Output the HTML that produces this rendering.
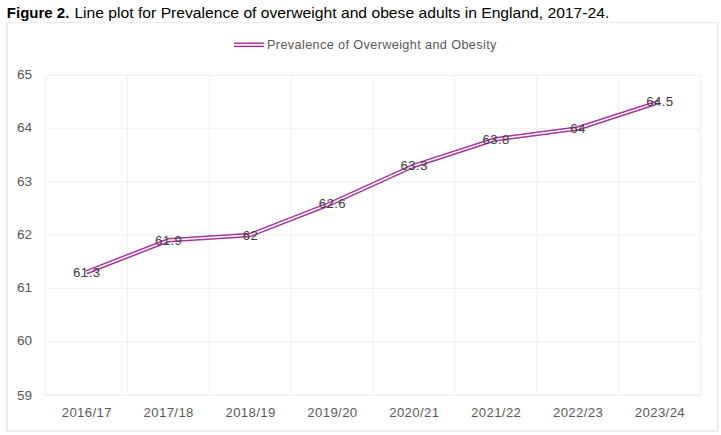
<!DOCTYPE html>
<html><head><meta charset="utf-8"><style>
html,body{margin:0;padding:0;background:#fff;width:721px;height:435px;overflow:hidden}
.t{position:absolute;left:0;top:0;}
svg{position:absolute;left:0;top:0}
svg text{font-family:"Liberation Sans",sans-serif}
.ax{font-size:13.2px;fill:#595959}
.dl{font-size:13.2px;fill:#404040}
.yl{font-size:13.6px;fill:#595959}
.lg{font-size:12.7px;fill:#595959}
.ti{font-size:15.4px;fill:#000}
</style></head><body>
<svg width="721" height="435" viewBox="0 0 721 435">
<defs><filter id="sb" x="-5%" y="-5%" width="110%" height="110%"><feGaussianBlur stdDeviation="0.3"/></filter></defs>
<rect x="6" y="22" width="712" height="409" fill="#fff" stroke="none"/>
<rect x="7" y="22.5" width="710.5" height="408.5" fill="none" stroke="#e2e2e2" stroke-width="1"/>
<rect x="6.5" y="22.5" width="711.5" height="409" fill="none" stroke="#ececec" stroke-width="1"/>
<text x="6.8" y="17.7" class="ti" font-weight="bold" textLength="62.6" lengthAdjust="spacingAndGlyphs">Figure 2.</text>
<text x="74.4" y="17.7" class="ti" textLength="534.9" lengthAdjust="spacingAndGlyphs">Line plot for Prevalence of overweight and obese adults in England, 2017-24.</text>
<line x1="45" x2="700.5" y1="75.50" y2="75.50" stroke="#f0f0f0" stroke-width="1"/>
<line x1="45" x2="700.5" y1="128.75" y2="128.75" stroke="#f0f0f0" stroke-width="1"/>
<line x1="45" x2="700.5" y1="182.00" y2="182.00" stroke="#f0f0f0" stroke-width="1"/>
<line x1="45" x2="700.5" y1="235.25" y2="235.25" stroke="#f0f0f0" stroke-width="1"/>
<line x1="45" x2="700.5" y1="288.50" y2="288.50" stroke="#f0f0f0" stroke-width="1"/>
<line x1="45" x2="700.5" y1="341.75" y2="341.75" stroke="#f0f0f0" stroke-width="1"/>
<line x1="45" x2="700.5" y1="395.2" y2="395.2" stroke="#ededed" stroke-width="1.4"/>
<line x1="45.50" x2="45.50" y1="75" y2="395.0" stroke="#f0f0f0" stroke-width="1"/>
<line x1="127.38" x2="127.38" y1="75" y2="395.0" stroke="#f0f0f0" stroke-width="1"/>
<line x1="209.25" x2="209.25" y1="75" y2="395.0" stroke="#f0f0f0" stroke-width="1"/>
<line x1="291.12" x2="291.12" y1="75" y2="395.0" stroke="#f0f0f0" stroke-width="1"/>
<line x1="373.00" x2="373.00" y1="75" y2="395.0" stroke="#f0f0f0" stroke-width="1"/>
<line x1="454.88" x2="454.88" y1="75" y2="395.0" stroke="#f0f0f0" stroke-width="1"/>
<line x1="536.75" x2="536.75" y1="75" y2="395.0" stroke="#f0f0f0" stroke-width="1"/>
<line x1="618.62" x2="618.62" y1="75" y2="395.0" stroke="#f0f0f0" stroke-width="1"/>
<line x1="700.50" x2="700.50" y1="75" y2="395.0" stroke="#f0f0f0" stroke-width="1"/>
<text x="32" y="79.00" text-anchor="end" class="yl">65</text>
<text x="32" y="132.25" text-anchor="end" class="yl">64</text>
<text x="32" y="185.50" text-anchor="end" class="yl">63</text>
<text x="32" y="238.75" text-anchor="end" class="yl">62</text>
<text x="32" y="292.00" text-anchor="end" class="yl">61</text>
<text x="32" y="345.25" text-anchor="end" class="yl">60</text>
<text x="32" y="399.50" text-anchor="end" class="yl">59</text>
<text x="86.64" y="417.3" text-anchor="middle" class="ax" textLength="49.8" lengthAdjust="spacing">2016/17</text>
<text x="168.51" y="417.3" text-anchor="middle" class="ax" textLength="49.8" lengthAdjust="spacing">2017/18</text>
<text x="250.39" y="417.3" text-anchor="middle" class="ax" textLength="49.8" lengthAdjust="spacing">2018/19</text>
<text x="332.26" y="417.3" text-anchor="middle" class="ax" textLength="49.8" lengthAdjust="spacing">2019/20</text>
<text x="414.14" y="417.3" text-anchor="middle" class="ax" textLength="49.8" lengthAdjust="spacing">2020/21</text>
<text x="496.01" y="417.3" text-anchor="middle" class="ax" textLength="49.8" lengthAdjust="spacing">2021/22</text>
<text x="577.89" y="417.3" text-anchor="middle" class="ax" textLength="49.8" lengthAdjust="spacing">2022/23</text>
<text x="659.76" y="417.3" text-anchor="middle" class="ax" textLength="49.8" lengthAdjust="spacing">2023/24</text>
<g filter="url(#sb)"><polyline points="86.34,272.28 168.21,240.33 250.09,235.00 331.96,203.05 413.84,165.78 495.71,139.15 577.59,128.50 659.46,101.88" fill="none" stroke="#A53599" stroke-width="4.5" stroke-linejoin="round"/>
<polyline points="86.34,272.28 168.21,240.33 250.09,235.00 331.96,203.05 413.84,165.78 495.71,139.15 577.59,128.50 659.46,101.88" fill="none" stroke="#fff" stroke-width="1.5" stroke-linejoin="round"/></g>
<text x="86.54" y="277" text-anchor="middle" class="dl" textLength="27.04" lengthAdjust="spacing">61.3</text>
<text x="168.41" y="245" text-anchor="middle" class="dl" textLength="27.04" lengthAdjust="spacing">61.9</text>
<text x="250.29" y="240" text-anchor="middle" class="dl" textLength="15.13" lengthAdjust="spacing">62</text>
<text x="332.16" y="208" text-anchor="middle" class="dl" textLength="27.04" lengthAdjust="spacing">62.6</text>
<text x="414.04" y="170" text-anchor="middle" class="dl" textLength="27.04" lengthAdjust="spacing">63.3</text>
<text x="495.91" y="144" text-anchor="middle" class="dl" textLength="27.04" lengthAdjust="spacing">63.8</text>
<text x="577.79" y="133" text-anchor="middle" class="dl" textLength="15.13" lengthAdjust="spacing">64</text>
<text x="659.66" y="106" text-anchor="middle" class="dl" textLength="27.04" lengthAdjust="spacing">64.5</text>
<line x1="234" x2="264.3" y1="43.2" y2="43.2" stroke="#A02B93" stroke-width="1.4"/>
<line x1="234" x2="264.3" y1="46.4" y2="46.4" stroke="#A02B93" stroke-width="1.4"/>
<text x="267" y="48.8" class="lg" textLength="229.4" lengthAdjust="spacing">Prevalence of Overweight and Obesity</text>
</svg>
</body></html>
